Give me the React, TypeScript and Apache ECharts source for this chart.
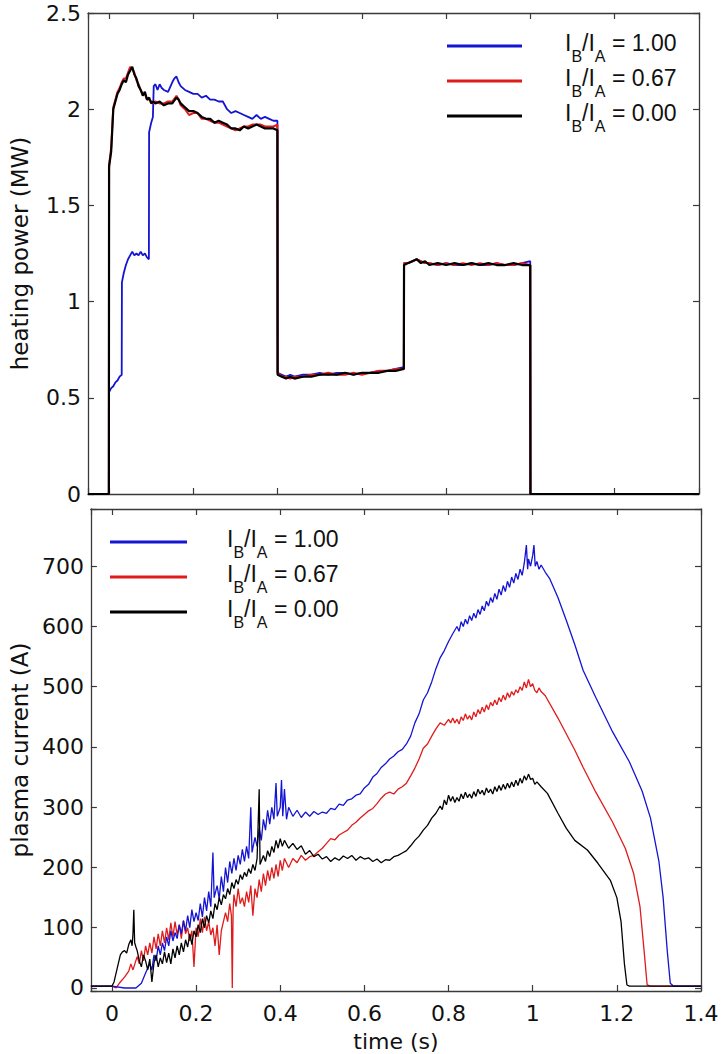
import React, { useEffect, useRef } from "react";
import * as echarts from "echarts";

// ---------- data ----------
const ratioLabels = ["1.00", "0.67", "0.00"];
const seriesColors = ["#1414d2", "#e01b1b", "#000000"];

const bluePower: [number, number][] = [[-0.05,0],[-0.0005,0],[0,0.53],[0.005,0.55],[0.01,0.56],[0.015,0.58],[0.02,0.59],[0.025,0.61],[0.03,0.62],[0.0305,1.1],[0.035,1.15],[0.04,1.19],[0.045,1.22],[0.05,1.24],[0.055,1.26],[0.06,1.24],[0.065,1.25],[0.07,1.24],[0.075,1.26],[0.08,1.24],[0.085,1.25],[0.09,1.23],[0.0945,1.22],[0.095,1.88],[0.1,1.93],[0.104,1.96],[0.106,2.12],[0.11,2.13],[0.115,2.1],[0.12,2.13],[0.125,2.11],[0.13,2.1],[0.14,2.09],[0.15,2.14],[0.155,2.16],[0.16,2.17],[0.165,2.14],[0.17,2.12],[0.18,2.1],[0.19,2.09],[0.2,2.08],[0.21,2.08],[0.22,2.06],[0.23,2.07],[0.24,2.05],[0.25,2.05],[0.26,2.04],[0.27,2.04],[0.28,2.0],[0.29,1.98],[0.3,1.99],[0.31,1.98],[0.32,1.97],[0.33,1.96],[0.34,1.95],[0.35,1.97],[0.36,1.95],[0.37,1.96],[0.38,1.95],[0.39,1.94],[0.3995,1.94],[0.4,0.63],[0.41,0.62],[0.42,0.61],[0.43,0.62],[0.44,0.61],[0.46,0.62],[0.48,0.62],[0.5,0.63],[0.52,0.62],[0.54,0.63],[0.56,0.63],[0.58,0.62],[0.6,0.63],[0.62,0.63],[0.64,0.64],[0.66,0.64],[0.68,0.65],[0.6995,0.66],[0.7,1.2],[0.71,1.2],[0.72,1.21],[0.73,1.22],[0.74,1.21],[0.75,1.2],[0.76,1.2],[0.78,1.19],[0.8,1.2],[0.82,1.19],[0.84,1.19],[0.86,1.2],[0.88,1.19],[0.9,1.19],[0.92,1.2],[0.94,1.19],[0.96,1.19],[0.98,1.2],[0.9995,1.21],[1.0,0],[1.4,0]];

const redPower: [number, number][] = [[-0.05,0],[-0.0005,0],[0,1.71],[0.005,1.8],[0.01,2.01],[0.015,2.05],[0.02,2.09],[0.025,2.11],[0.03,2.14],[0.035,2.16],[0.04,2.16],[0.045,2.19],[0.05,2.22],[0.055,2.21],[0.06,2.19],[0.065,2.15],[0.07,2.13],[0.075,2.1],[0.08,2.08],[0.085,2.08],[0.09,2.05],[0.095,2.05],[0.1,2.04],[0.105,2.03],[0.11,2.04],[0.12,2.03],[0.13,2.03],[0.14,2.04],[0.15,2.04],[0.16,2.07],[0.165,2.05],[0.17,2.02],[0.18,2.0],[0.19,1.97],[0.2,1.98],[0.21,1.98],[0.22,1.95],[0.23,1.95],[0.24,1.94],[0.25,1.93],[0.26,1.93],[0.27,1.92],[0.28,1.91],[0.29,1.9],[0.3,1.89],[0.31,1.9],[0.32,1.91],[0.33,1.91],[0.34,1.92],[0.35,1.92],[0.36,1.92],[0.37,1.91],[0.38,1.91],[0.39,1.91],[0.3995,1.92],[0.4,0.63],[0.41,0.61],[0.42,0.61],[0.43,0.6],[0.44,0.61],[0.46,0.61],[0.48,0.62],[0.5,0.62],[0.52,0.63],[0.54,0.62],[0.56,0.62],[0.58,0.63],[0.6,0.62],[0.62,0.63],[0.64,0.64],[0.66,0.64],[0.68,0.65],[0.6995,0.65],[0.7,1.2],[0.71,1.2],[0.72,1.21],[0.73,1.22],[0.74,1.21],[0.75,1.2],[0.76,1.2],[0.78,1.19],[0.8,1.2],[0.82,1.19],[0.84,1.2],[0.86,1.19],[0.88,1.2],[0.9,1.19],[0.92,1.2],[0.94,1.19],[0.96,1.19],[0.98,1.2],[0.9995,1.19],[1.0,0],[1.4,0]];

const blackPower: [number, number][] = [[-0.05,0],[-0.0005,0],[0,1.7],[0.005,1.78],[0.01,2.0],[0.015,2.04],[0.02,2.08],[0.025,2.1],[0.03,2.13],[0.035,2.15],[0.04,2.14],[0.045,2.18],[0.05,2.2],[0.055,2.22],[0.06,2.18],[0.065,2.16],[0.07,2.12],[0.075,2.1],[0.08,2.07],[0.085,2.09],[0.09,2.05],[0.095,2.06],[0.1,2.03],[0.105,2.04],[0.11,2.03],[0.12,2.04],[0.13,2.02],[0.14,2.03],[0.15,2.03],[0.16,2.06],[0.165,2.05],[0.17,2.03],[0.18,2.01],[0.19,1.99],[0.2,1.99],[0.21,1.98],[0.22,1.96],[0.23,1.95],[0.24,1.95],[0.25,1.93],[0.26,1.94],[0.27,1.93],[0.28,1.92],[0.29,1.9],[0.3,1.9],[0.31,1.89],[0.32,1.91],[0.33,1.9],[0.34,1.91],[0.35,1.92],[0.36,1.91],[0.37,1.9],[0.38,1.9],[0.39,1.9],[0.3995,1.89],[0.4,0.62],[0.41,0.61],[0.42,0.6],[0.43,0.61],[0.44,0.6],[0.46,0.61],[0.48,0.61],[0.5,0.62],[0.52,0.62],[0.54,0.62],[0.56,0.63],[0.58,0.62],[0.6,0.63],[0.62,0.63],[0.64,0.63],[0.66,0.64],[0.68,0.64],[0.6995,0.65],[0.7,1.19],[0.71,1.2],[0.72,1.21],[0.73,1.22],[0.74,1.2],[0.75,1.21],[0.76,1.19],[0.78,1.2],[0.8,1.19],[0.82,1.2],[0.84,1.19],[0.86,1.2],[0.88,1.19],[0.9,1.2],[0.92,1.19],[0.94,1.19],[0.96,1.2],[0.98,1.19],[0.9995,1.19],[1.0,0],[1.4,0]];

const blueCurrent: [number, number][] = [[-0.05,3],[0.0,3],[0.03,0],[0.057,0],[0.07,8],[0.08,25],[0.09,40],[0.095,30],[0.1,55],[0.105,45],[0.11,70],[0.115,55],[0.12,75],[0.125,62],[0.13,85],[0.135,70],[0.14,95],[0.145,78],[0.15,92],[0.155,82],[0.16,105],[0.165,90],[0.17,112],[0.175,95],[0.18,120],[0.185,100],[0.19,130],[0.195,110],[0.2,125],[0.205,112],[0.21,140],[0.215,118],[0.22,150],[0.225,128],[0.23,160],[0.235,135],[0.24,225],[0.243,150],[0.25,170],[0.255,148],[0.26,185],[0.265,160],[0.27,200],[0.275,175],[0.28,210],[0.285,190],[0.29,215],[0.295,195],[0.3,220],[0.305,205],[0.31,230],[0.315,210],[0.32,235],[0.325,215],[0.33,300],[0.333,225],[0.34,250],[0.345,235],[0.35,265],[0.355,245],[0.36,280],[0.365,262],[0.37,295],[0.375,272],[0.38,300],[0.385,280],[0.39,340],[0.393,285],[0.4,300],[0.403,345],[0.406,285],[0.41,330],[0.415,280],[0.42,300],[0.43,285],[0.44,295],[0.45,283],[0.46,292],[0.47,285],[0.48,293],[0.49,288],[0.5,292],[0.51,290],[0.52,298],[0.53,296],[0.54,305],[0.55,303],[0.56,312],[0.57,314],[0.58,320],[0.59,322],[0.6,332],[0.61,338],[0.62,350],[0.63,356],[0.64,366],[0.65,372],[0.66,380],[0.67,385],[0.68,392],[0.69,396],[0.7,405],[0.71,418],[0.72,440],[0.73,455],[0.74,478],[0.75,490],[0.76,508],[0.77,530],[0.78,548],[0.79,560],[0.8,575],[0.81,588],[0.82,600],[0.825,592],[0.83,608],[0.835,600],[0.84,612],[0.845,604],[0.85,618],[0.855,610],[0.86,622],[0.865,614],[0.87,628],[0.875,620],[0.88,634],[0.885,626],[0.89,642],[0.895,634],[0.9,648],[0.905,640],[0.91,655],[0.915,645],[0.92,662],[0.925,652],[0.93,668],[0.935,658],[0.94,675],[0.945,665],[0.95,682],[0.955,672],[0.96,688],[0.965,678],[0.97,695],[0.975,685],[0.98,705],[0.985,735],[0.988,695],[0.99,712],[0.995,700],[1.0,718],[1.003,735],[1.006,700],[1.01,708],[1.015,695],[1.02,702],[1.03,690],[1.04,680],[1.06,648],[1.08,610],[1.1,570],[1.12,527],[1.15,482],[1.19,425],[1.23,375],[1.26,327],[1.28,282],[1.3,210],[1.31,150],[1.32,60],[1.327,8],[1.335,3],[1.4,3]];

const redCurrent: [number, number][] = [[-0.05,3],[0.0,3],[0.01,0],[0.02,10],[0.03,18],[0.04,28],[0.045,40],[0.05,30],[0.06,52],[0.065,40],[0.07,62],[0.075,45],[0.08,70],[0.085,55],[0.09,75],[0.095,58],[0.1,85],[0.105,65],[0.11,90],[0.115,70],[0.12,95],[0.125,75],[0.13,100],[0.135,80],[0.14,108],[0.145,85],[0.15,110],[0.155,88],[0.16,105],[0.165,82],[0.17,112],[0.175,90],[0.18,100],[0.185,78],[0.19,95],[0.195,35],[0.2,100],[0.205,85],[0.21,115],[0.215,92],[0.22,118],[0.225,95],[0.23,110],[0.235,88],[0.24,100],[0.245,70],[0.25,105],[0.255,55],[0.26,95],[0.265,110],[0.27,125],[0.275,110],[0.28,140],[0.284,120],[0.286,0],[0.288,130],[0.29,155],[0.295,135],[0.3,165],[0.305,140],[0.31,150],[0.315,135],[0.32,160],[0.325,142],[0.33,170],[0.335,120],[0.34,165],[0.345,150],[0.35,180],[0.355,160],[0.36,190],[0.365,170],[0.37,195],[0.375,178],[0.38,200],[0.385,182],[0.39,205],[0.395,185],[0.4,212],[0.405,195],[0.41,215],[0.42,200],[0.43,215],[0.44,208],[0.45,220],[0.46,212],[0.47,218],[0.48,220],[0.49,226],[0.5,232],[0.51,240],[0.52,248],[0.53,246],[0.54,254],[0.55,258],[0.56,262],[0.57,270],[0.58,275],[0.59,282],[0.6,288],[0.61,294],[0.62,298],[0.63,306],[0.64,315],[0.65,322],[0.66,325],[0.67,322],[0.68,330],[0.69,334],[0.7,340],[0.71,352],[0.72,365],[0.73,380],[0.74,398],[0.75,405],[0.76,418],[0.77,430],[0.78,440],[0.79,436],[0.8,446],[0.805,440],[0.81,448],[0.815,440],[0.82,446],[0.825,438],[0.83,450],[0.835,444],[0.84,455],[0.845,446],[0.85,452],[0.855,445],[0.86,458],[0.865,450],[0.87,462],[0.875,455],[0.88,466],[0.885,458],[0.89,470],[0.895,462],[0.9,474],[0.905,468],[0.91,478],[0.915,470],[0.92,482],[0.925,475],[0.93,486],[0.935,478],[0.94,490],[0.945,482],[0.95,492],[0.955,486],[0.96,495],[0.965,490],[0.97,500],[0.975,494],[0.98,508],[0.985,498],[0.99,512],[0.995,500],[1.0,505],[1.005,494],[1.01,490],[1.015,498],[1.02,492],[1.03,485],[1.06,448],[1.1,395],[1.12,366],[1.15,325],[1.19,275],[1.22,232],[1.24,190],[1.255,135],[1.265,60],[1.272,5],[1.28,3],[1.4,3]];

const blackCurrent: [number, number][] = [[-0.05,3],[0.0,3],[0.005,10],[0.01,25],[0.02,55],[0.025,60],[0.03,62],[0.035,58],[0.04,72],[0.045,80],[0.048,70],[0.05,90],[0.052,130],[0.054,75],[0.057,68],[0.06,62],[0.065,45],[0.07,35],[0.075,55],[0.08,45],[0.085,30],[0.09,48],[0.095,10],[0.1,42],[0.105,55],[0.11,35],[0.115,50],[0.12,40],[0.125,60],[0.13,42],[0.135,58],[0.14,40],[0.145,65],[0.15,50],[0.155,70],[0.16,55],[0.165,75],[0.17,60],[0.175,80],[0.18,68],[0.185,90],[0.19,72],[0.195,95],[0.2,85],[0.205,105],[0.21,92],[0.215,115],[0.22,100],[0.225,120],[0.23,108],[0.235,128],[0.24,115],[0.245,140],[0.25,130],[0.255,150],[0.26,138],[0.265,155],[0.27,148],[0.275,165],[0.28,155],[0.285,175],[0.29,165],[0.295,180],[0.3,172],[0.305,188],[0.31,180],[0.315,192],[0.32,185],[0.325,198],[0.33,190],[0.335,205],[0.34,195],[0.345,215],[0.35,330],[0.352,205],[0.36,220],[0.365,210],[0.37,228],[0.375,218],[0.38,235],[0.385,225],[0.39,245],[0.395,232],[0.4,248],[0.405,235],[0.41,245],[0.42,232],[0.43,240],[0.44,230],[0.45,236],[0.46,222],[0.47,228],[0.48,218],[0.49,222],[0.5,214],[0.51,218],[0.52,210],[0.53,216],[0.54,212],[0.55,219],[0.56,215],[0.57,220],[0.58,212],[0.59,218],[0.6,214],[0.61,216],[0.62,210],[0.63,214],[0.64,208],[0.65,213],[0.66,212],[0.67,218],[0.68,220],[0.69,224],[0.7,228],[0.71,236],[0.72,245],[0.73,252],[0.74,262],[0.75,270],[0.76,282],[0.77,290],[0.78,302],[0.785,296],[0.79,312],[0.795,304],[0.8,320],[0.805,310],[0.81,318],[0.815,308],[0.82,316],[0.825,310],[0.83,322],[0.835,314],[0.84,325],[0.845,316],[0.85,322],[0.855,315],[0.86,326],[0.865,318],[0.87,330],[0.875,322],[0.88,328],[0.885,320],[0.89,332],[0.895,324],[0.9,330],[0.905,322],[0.91,334],[0.915,326],[0.92,336],[0.925,328],[0.93,338],[0.935,330],[0.94,340],[0.945,332],[0.95,342],[0.955,334],[0.96,345],[0.965,336],[0.97,348],[0.975,340],[0.98,352],[0.985,345],[0.99,355],[0.995,346],[1.0,348],[1.005,338],[1.01,342],[1.02,334],[1.035,323],[1.06,290],[1.08,265],[1.1,245],[1.13,229],[1.155,207],[1.185,178],[1.2,150],[1.21,110],[1.218,40],[1.224,5],[1.23,3],[1.4,3]];

const powerSeries = [bluePower, redPower, blackPower];
const powerWidths = [1.8, 2.0, 2.2];
const currentSeries = [redCurrent, blueCurrent, blackCurrent];
const currentColors = [seriesColors[1], seriesColors[0], seriesColors[2]];

// ---------- styling ----------
const FONT = "DejaVu Sans";
const LEGEND_FONT = "Liberation Sans";
const AXIS_COLOR = "#3a3a3a";

function fmtTime(v: number) {
  const k = Math.round(v / 0.2);
  if (Math.abs(v - k * 0.2) > 1e-6) return "";
  return String(parseFloat(v.toFixed(2)));
}
function fmtCurrent(v: number) {
  const k = Math.round(v / 100);
  if (Math.abs(v - k * 100) > 1e-6) return "";
  return String(k * 100);
}

function xAx(gridIndex: number, position: "top" | "bottom", labels: boolean, name?: string) {
  return {
    type: "value",
    gridIndex,
    position,
    min: -0.05,
    max: 1.4,
    minInterval: 0.2,
    maxInterval: 0.2,
    name: name || "",
    nameLocation: "middle",
    nameGap: 39,
    nameTextStyle: { fontSize: 22, color: "#111", fontFamily: FONT },
    axisLine: { show: true, onZero: false, lineStyle: { color: AXIS_COLOR, width: 1.3 } },
    axisTick: { show: true, inside: true, length: 6, lineStyle: { color: AXIS_COLOR, width: 1.2 } },
    axisLabel: { show: labels, formatter: fmtTime, fontSize: 22, color: "#111", fontFamily: FONT, margin: 11 },
    splitLine: { show: false },
  };
}

function yAx(
  gridIndex: number,
  position: "left" | "right",
  labels: boolean,
  range: { min: number; max: number; step: number },
  formatter: (v: number) => string,
  name?: string
) {
  return {
    type: "value",
    gridIndex,
    position,
    min: range.min,
    max: range.max,
    minInterval: range.step,
    maxInterval: range.step,
    name: name || "",
    nameLocation: "middle",
    nameGap: 57,
    nameTextStyle: { fontSize: 23, color: "#111", fontFamily: FONT },
    axisLine: { show: true, onZero: false, lineStyle: { color: AXIS_COLOR, width: 1.3 } },
    axisTick: { show: true, inside: true, length: 6, lineStyle: { color: AXIS_COLOR, width: 1.2 } },
    axisLabel: { show: labels, formatter, fontSize: 22, color: "#111", fontFamily: FONT, margin: 7 },
    splitLine: { show: false },
  };
}

function legendGraphics(x1: number, x2: number, textX: number, ys: number[], colors: string[]) {
  const els: any[] = [];
  ratioLabels.forEach((lab, i) => {
    els.push({
      type: "line",
      shape: { x1, y1: ys[i], x2, y2: ys[i] },
      style: { stroke: colors[i], lineWidth: 3 },
      z: 10,
    });
    els.push({
      type: "text",
      x: textX,
      y: ys[i] - 15,
      z: 10,
      style: {
        text: `{m|I}{s|B}{m|/I}{s|A}{m| = ${lab}}`,
        verticalAlign: "top",
        align: "left",
        rich: {
          m: { fontSize: 23, fontFamily: LEGEND_FONT, fill: "#111", lineHeight: 26, verticalAlign: "top" },
          s: { fontSize: 16, fontFamily: LEGEND_FONT, fill: "#111", lineHeight: 16, padding: [17, 0, 0, 0], verticalAlign: "top" },
        },
      },
    });
  });
  return els;
}

export default function App() {
  const ref = useRef<HTMLDivElement>(null);
  useEffect(() => {
    if (!ref.current) return;
    const chart = echarts.init(ref.current, undefined, { renderer: "svg" });
    const powerRange = { min: 0, max: 2.5, step: 0.5 };
    const currentRange = { min: -5, max: 795, step: 100 };
    const series: any[] = [];
    powerSeries.forEach((d, i) => {
      series.push({
        type: "line",
        xAxisIndex: 0,
        yAxisIndex: 0,
        data: d,
        showSymbol: false,
        symbol: "none",
        lineStyle: { color: seriesColors[i], width: powerWidths[i] },
        itemStyle: { color: seriesColors[i] },
      });
    });
    currentSeries.forEach((d, i) => {
      series.push({
        type: "line",
        xAxisIndex: 2,
        yAxisIndex: 2,
        data: d,
        showSymbol: false,
        symbol: "none",
        lineStyle: { color: currentColors[i], width: 1.3 },
        itemStyle: { color: currentColors[i] },
      });
    });
    chart.setOption({
      animation: false,
      backgroundColor: "#ffffff",
      grid: [
        { left: 88, right: 25, top: 13, height: 481 },
        { left: 90, right: 23, top: 509, height: 482 },
      ],
      xAxis: [
        xAx(0, "bottom", false),
        xAx(0, "top", false),
        xAx(1, "bottom", true, "time (s)"),
        xAx(1, "top", false),
      ],
      yAxis: [
        yAx(0, "left", true, powerRange, (v: number) => String(parseFloat(v.toFixed(2))), "heating power (MW)"),
        yAx(0, "right", false, powerRange, (v: number) => ""),
        yAx(1, "left", true, currentRange, fmtCurrent, "plasma current (A)"),
        yAx(1, "right", false, currentRange, (v: number) => ""),
      ],
      series,
      graphic: [
        ...legendGraphics(447, 522, 565, [46, 81, 116], seriesColors),
        ...legendGraphics(110, 187, 227, [542, 577, 612], seriesColors),
      ],
    });
    return () => chart.dispose();
  }, []);
  return (
    <div
      ref={ref}
      style={{ position: "absolute", left: 0, top: 0, width: 724, height: 1054, background: "#fff" }}
    />
  );
}
